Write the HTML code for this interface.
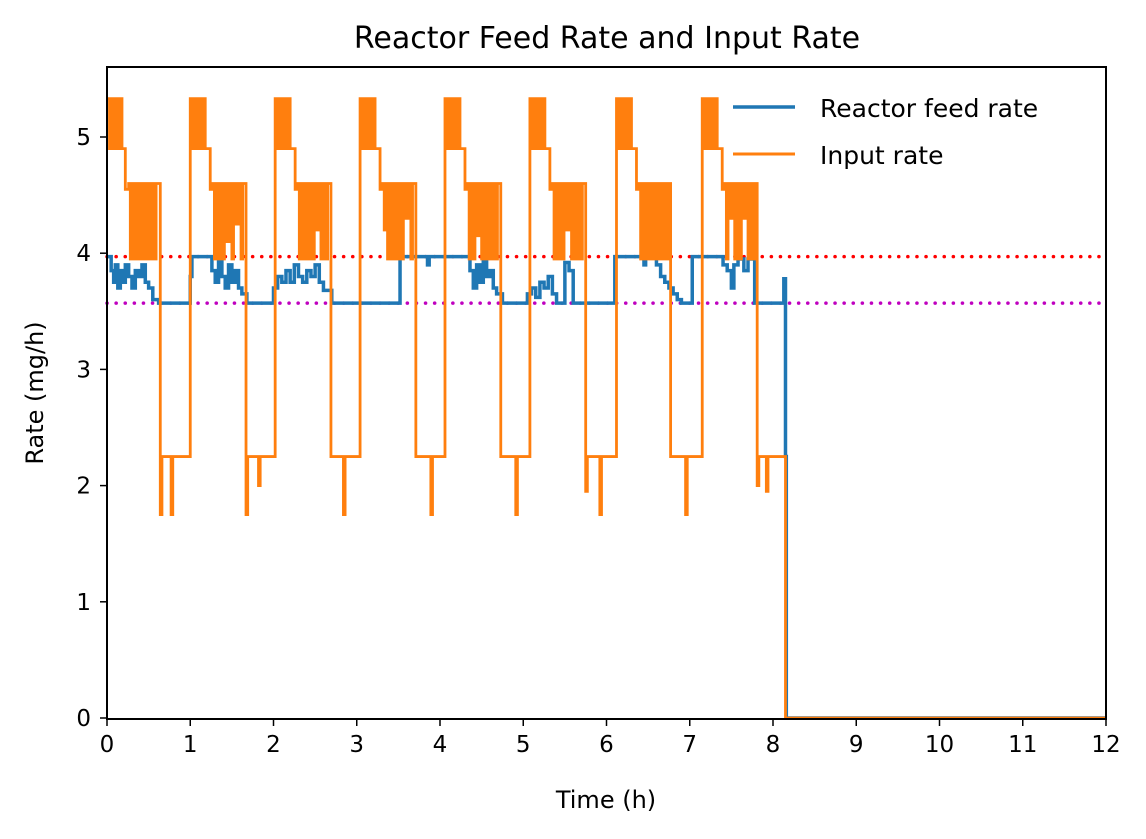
<!DOCTYPE html>
<html><head><meta charset="utf-8">
<style>
body{margin:0;background:#fff;}
svg text{font-family:"DejaVu Sans","Liberation Sans",sans-serif;fill:#000;}
</style></head>
<body>
<svg id="chart" width="1146" height="834" viewBox="0 0 1146 834" xmlns="http://www.w3.org/2000/svg">
<rect width="1146" height="834" fill="#fff"/>
<text x="607" y="48" font-size="30" text-anchor="middle">Reactor Feed Rate and Input Rate</text>
<g id="plot"></g>
<rect x="107" y="67" width="999" height="652" fill="none" stroke="#000" stroke-width="2"/>
<g id="axes"></g>
<text x="606" y="808" font-size="24" text-anchor="middle">Time (h)</text>
<text transform="translate(43,393) rotate(-90)" font-size="24" text-anchor="middle">Rate (mg/h)</text>
<g>
<line x1="733" y1="107" x2="795" y2="107" stroke="#1f77b4" stroke-width="3.5"/>
<text x="820" y="117" font-size="25">Reactor feed rate</text>
<line x1="733" y1="154" x2="795" y2="154" stroke="#ff7f0e" stroke-width="3"/>
<text x="820" y="164" font-size="25">Input rate</text>
</g>
</svg>
<script>
const xTicks=[0,1,2,3,4,5,6,7,8,9,10,11,12];
const yTicks=[0,1,2,3,4,5];
const upperLimit=3.97;
const lowerLimit=3.57;
const inputTimes=[0,.03,.05,.08,.1,.13,.15,.18,.22,.26,.28,.3,.32,.34,.37,.39,.42,.44,.47,.49,.52,.54,.57,.59,.64,.66,.77,.79,
1.0,1.03,1.05,1.08,1.1,1.13,1.15,1.18,1.24,1.27,1.29,1.31,1.33,1.36,1.39,1.41,1.44,1.47,1.5,1.52,1.55,1.58,1.61,1.63,1.67,1.69,1.82,1.84,
2.02,2.05,2.07,2.1,2.12,2.15,2.17,2.2,2.26,2.29,2.31,2.33,2.35,2.38,2.41,2.43,2.46,2.49,2.52,2.54,2.57,2.6,2.63,2.65,2.69,2.84,2.86,
3.04,3.07,3.09,3.12,3.14,3.17,3.19,3.22,3.28,3.31,3.33,3.35,3.37,3.4,3.43,3.45,3.48,3.51,3.54,3.56,3.59,3.62,3.65,3.67,3.71,3.89,3.91,
4.06,4.09,4.11,4.14,4.16,4.19,4.21,4.24,4.3,4.33,4.35,4.37,4.39,4.42,4.45,4.47,4.5,4.53,4.56,4.58,4.61,4.64,4.67,4.69,4.73,4.91,4.93,
5.08,5.11,5.13,5.16,5.18,5.21,5.23,5.26,5.32,5.35,5.37,5.39,5.41,5.44,5.47,5.49,5.52,5.55,5.58,5.6,5.63,5.66,5.69,5.71,5.75,5.77,5.92,5.94,
6.12,6.15,6.17,6.2,6.22,6.25,6.27,6.3,6.36,6.39,6.41,6.43,6.45,6.48,6.51,6.53,6.56,6.59,6.62,6.64,6.67,6.7,6.73,6.75,6.77,6.95,6.97,
7.15,7.18,7.2,7.23,7.25,7.28,7.3,7.33,7.39,7.42,7.44,7.46,7.48,7.51,7.54,7.56,7.59,7.62,7.65,7.67,7.7,7.73,7.76,7.78,7.81,7.83,7.92,7.94,8.15,12];
const inputValues=[5.33,4.9,5.33,4.9,5.33,4.9,5.33,4.9,4.55,4.6,3.95,4.6,3.95,4.6,3.95,4.6,3.95,4.6,3.95,4.6,3.95,4.6,3.95,4.6,1.75,2.25,1.75,2.25,
5.33,4.9,5.33,4.9,5.33,4.9,5.33,4.9,4.55,4.6,3.95,4.6,3.95,4.6,3.95,4.6,4.1,4.6,3.95,4.6,4.25,4.6,3.95,4.6,1.75,2.25,2.0,2.25,
5.33,4.9,5.33,4.9,5.33,4.9,5.33,4.9,4.55,4.6,3.95,4.6,3.95,4.6,3.95,4.6,3.95,4.6,4.2,4.6,3.95,4.6,3.95,4.6,2.25,1.75,2.25,
5.33,4.9,5.33,4.9,5.33,4.9,5.33,4.9,4.55,4.6,4.2,4.6,3.95,4.6,3.95,4.6,3.95,4.6,3.95,4.6,4.3,4.6,3.95,4.6,2.25,1.75,2.25,
5.33,4.9,5.33,4.9,5.33,4.9,5.33,4.9,4.55,4.6,3.95,4.6,3.95,4.6,4.15,4.6,3.95,4.6,3.95,4.6,3.95,4.6,3.95,4.6,2.25,1.75,2.25,
5.33,4.9,5.33,4.9,5.33,4.9,5.33,4.9,4.55,4.6,3.95,4.6,3.95,4.6,3.95,4.6,4.2,4.6,3.95,4.6,3.95,4.6,3.95,4.6,1.95,2.25,1.75,2.25,
5.33,4.9,5.33,4.9,5.33,4.9,5.33,4.9,4.55,4.6,3.95,4.6,3.95,4.6,3.95,4.6,3.95,4.6,3.95,4.6,3.95,4.6,3.95,4.6,2.25,1.75,2.25,
5.33,4.9,5.33,4.9,5.33,4.9,5.33,4.9,4.55,4.6,3.95,4.6,4.3,4.6,3.95,4.6,3.95,4.6,4.3,4.6,3.95,4.6,3.95,4.6,2.0,2.25,1.95,2.25,0,0];
const feedTimes=[0,.05,.08,.1,.13,.16,.19,.22,.26,.3,.34,.38,.42,.46,.5,.55,.62,
1.0,1.02,1.26,1.3,1.34,1.38,1.42,1.46,1.5,1.54,1.58,1.62,1.68,
2.0,2.05,2.1,2.15,2.2,2.25,2.3,2.35,2.4,2.45,2.5,2.55,2.6,2.7,
3.52,3.85,3.87,4.36,4.4,4.44,4.48,4.52,4.56,4.6,4.64,4.68,4.75,
5.05,5.1,5.15,5.2,5.25,5.3,5.35,5.4,5.5,5.55,5.6,
6.1,6.45,6.47,6.6,6.65,6.7,6.75,6.8,6.85,6.9,
7.03,7.4,7.45,7.5,7.53,7.58,7.65,7.7,7.78,8.13,8.15,8.16,12];
const feedValues=[3.97,3.85,3.75,3.9,3.7,3.85,3.75,3.9,3.8,3.7,3.85,3.8,3.9,3.75,3.7,3.6,3.57,
3.8,3.97,3.85,3.75,3.95,3.8,3.7,3.9,3.75,3.85,3.7,3.65,3.57,
3.7,3.8,3.75,3.85,3.75,3.9,3.8,3.75,3.85,3.8,3.9,3.75,3.68,3.57,
3.97,3.9,3.97,3.85,3.7,3.9,3.75,3.95,3.8,3.85,3.7,3.65,3.57,
3.65,3.7,3.62,3.75,3.7,3.8,3.65,3.57,3.92,3.85,3.57,
3.97,3.9,3.97,3.9,3.8,3.75,3.7,3.65,3.6,3.57,
3.97,3.9,3.85,3.7,3.9,3.95,3.85,3.95,3.57,3.78,2.25,0,0];

const X=t=>107+t*83.25;
const Y=v=>718-v*116.2;
const NS="http://www.w3.org/2000/svg";
const plot=document.getElementById('plot');
const axes=document.getElementById('axes');
function mk(tag,attrs,parent){const e=document.createElementNS(NS,tag);for(const k in attrs)e.setAttribute(k,attrs[k]);parent.appendChild(e);return e;}

const hl1=mk('line',{x1:X(0),x2:X(12),y1:Y(upperLimit),y2:Y(upperLimit),stroke:'#ff0000','stroke-width':3.5,'stroke-dasharray':'0.1 9','stroke-linecap':'round'},plot);


const hl2=mk('line',{x1:X(0),x2:X(12),y1:Y(lowerLimit),y2:Y(lowerLimit),stroke:'#bf00bf','stroke-width':3.5,'stroke-dasharray':'0.1 9','stroke-linecap':'round'},plot);



function stepPath(ts,vs){let d='M'+X(ts[0])+' '+Y(vs[0]);for(let i=1;i<ts.length;i++){d+=' H'+X(ts[i])+' V'+Y(vs[i]);}return d;}
const feed=mk('path',{d:stepPath(feedTimes,feedValues),fill:'none',stroke:'#1f77b4','stroke-width':3.5},plot);


const inp=mk('path',{d:stepPath(inputTimes,inputValues),fill:'none',stroke:'#ff7f0e','stroke-width':2.8},plot);



xTicks.forEach(t=>{
  const l=mk('line',{x1:X(t),x2:X(t),y1:719,y2:726,stroke:'#000','stroke-width':1.5},axes);
  
  
  const tx=mk('text',{x:X(t),y:752,'font-size':23,'text-anchor':'middle'},axes);
  
  
  tx.textContent=t;
});
yTicks.forEach(v=>{
  const l=mk('line',{x1:100,x2:107,y1:Y(v),y2:Y(v),stroke:'#000','stroke-width':1.5},axes);
  
  
  const tx=mk('text',{x:91,y:Y(v)+8,'font-size':23,'text-anchor':'end'},axes);
  
  
  tx.textContent=v;
});
</script>
</body></html>
